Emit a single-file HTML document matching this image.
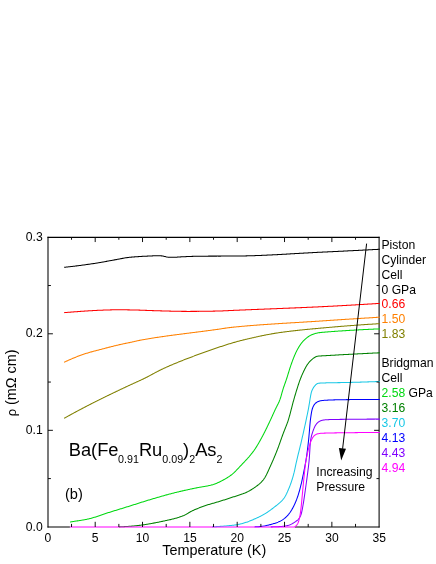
<!DOCTYPE html>
<html><head><meta charset="utf-8"><title>chart</title>
<style>
html,body{margin:0;padding:0;background:#fff;}
body{width:436px;height:564px;overflow:hidden;}
svg{display:block;will-change:transform;}
text{font-family:"Liberation Sans",sans-serif;}
</style></head><body>
<svg width="436" height="564" viewBox="0 0 436 564">
<rect width="436" height="564" fill="#fff"/>
<g id="axes">
<path d="M48.00 236.85 V527.50" stroke="#000" stroke-width="1.05" fill="none"/>
<path d="M379.10 236.85 V527.50" stroke="#000" stroke-width="1.05" fill="none"/>
<path d="M47.50 237.35 H379.60" stroke="#000" stroke-width="1.05" fill="none"/>
<path d="M47.50 527.00 H69.90 M294.95 527.00 H379.60" stroke="#000" stroke-width="1.05" fill="none"/>
</g>
<g id="curves">
<path d="M64.12 267.30 L64.86 267.23 L65.61 267.15 L66.35 267.07 L67.10 267.00 L67.84 266.92 L68.59 266.84 L69.34 266.75 L70.08 266.67 L70.83 266.59 L71.57 266.50 L72.32 266.42 L73.06 266.33 L73.80 266.24 L74.55 266.15 L75.29 266.06 L76.04 265.97 L76.78 265.88 L77.52 265.78 L78.27 265.69 L79.01 265.59 L79.76 265.50 L80.50 265.40 L81.24 265.30 L81.99 265.20 L82.73 265.10 L83.47 265.00 L84.21 264.90 L84.96 264.80 L85.70 264.70 L86.44 264.59 L87.18 264.49 L87.93 264.38 L88.67 264.28 L89.41 264.17 L90.15 264.06 L90.89 263.96 L91.64 263.85 L92.38 263.74 L93.12 263.63 L93.86 263.52 L94.60 263.41 L95.34 263.29 L96.09 263.18 L96.83 263.06 L97.57 262.94 L98.31 262.82 L99.04 262.70 L99.78 262.57 L100.52 262.44 L101.26 262.31 L102.00 262.18 L102.74 262.05 L103.47 261.92 L104.21 261.78 L104.95 261.65 L105.69 261.51 L106.42 261.37 L107.16 261.24 L107.90 261.10 L108.64 260.96 L109.37 260.83 L110.11 260.69 L110.85 260.55 L111.58 260.42 L112.32 260.28 L113.06 260.15 L113.80 260.01 L114.53 259.88 L115.27 259.75 L116.01 259.62 L116.75 259.48 L117.49 259.35 L118.22 259.21 L118.96 259.07 L119.69 258.92 L120.43 258.78 L121.17 258.64 L121.90 258.50 L122.64 258.36 L123.38 258.22 L124.12 258.09 L124.85 257.97 L125.59 257.84 L126.33 257.73 L127.08 257.62 L127.82 257.52 L128.56 257.43 L129.31 257.35 L130.05 257.27 L130.80 257.20 L131.55 257.13 L132.29 257.06 L133.04 257.00 L133.79 256.94 L134.54 256.88 L135.28 256.82 L136.03 256.76 L136.78 256.71 L137.53 256.66 L138.27 256.61 L139.02 256.56 L139.77 256.52 L140.52 256.47 L141.27 256.43 L142.02 256.39 L142.76 256.35 L143.51 256.31 L144.26 256.27 L145.01 256.24 L145.76 256.20 L146.51 256.16 L147.26 256.12 L148.01 256.08 L148.75 256.05 L149.50 256.01 L150.25 255.97 L151.00 255.94 L151.75 255.91 L152.50 255.88 L153.25 255.85 L154.00 255.82 L154.75 255.80 L155.50 255.78 L156.25 255.76 L157.00 255.75 L157.75 255.74 L158.49 255.73 L159.24 255.74 L159.99 255.76 L160.74 255.81 L161.49 255.88 L162.23 255.97 L162.97 256.08 L163.70 256.22 L164.43 256.39 L165.16 256.58 L165.88 256.78 L166.61 256.95 L167.34 257.10 L168.08 257.19 L168.83 257.24 L169.58 257.26 L170.33 257.26 L171.08 257.26 L171.83 257.26 L172.58 257.26 L173.33 257.26 L174.07 257.26 L174.82 257.24 L175.57 257.21 L176.32 257.17 L177.07 257.13 L177.82 257.07 L178.57 257.02 L179.31 256.96 L180.06 256.92 L180.81 256.87 L181.56 256.84 L182.31 256.80 L183.06 256.77 L183.81 256.73 L184.55 256.70 L185.30 256.67 L186.05 256.63 L186.80 256.60 L187.55 256.57 L188.30 256.53 L189.05 256.50 L189.80 256.47 L190.55 256.45 L191.30 256.42 L192.04 256.39 L192.79 256.37 L193.54 256.34 L194.29 256.32 L195.04 256.30 L195.79 256.28 L196.54 256.26 L197.29 256.25 L198.04 256.23 L198.79 256.22 L199.54 256.21 L200.29 256.20 L201.04 256.19 L201.79 256.19 L202.54 256.18 L203.29 256.17 L204.04 256.17 L204.79 256.16 L205.54 256.16 L206.29 256.15 L207.04 256.15 L207.79 256.15 L208.54 256.14 L209.29 256.14 L210.04 256.13 L210.78 256.13 L211.53 256.13 L212.28 256.12 L213.03 256.12 L213.78 256.12 L214.53 256.12 L215.28 256.11 L216.03 256.11 L216.78 256.11 L217.53 256.10 L218.28 256.10 L219.03 256.10 L219.78 256.10 L220.53 256.10 L221.28 256.09 L222.03 256.09 L222.78 256.09 L223.53 256.09 L224.28 256.08 L225.03 256.08 L225.78 256.08 L226.53 256.07 L227.28 256.07 L228.03 256.07 L228.78 256.07 L229.53 256.06 L230.28 256.06 L231.03 256.05 L231.78 256.05 L232.53 256.05 L233.28 256.04 L234.03 256.04 L234.78 256.03 L235.52 256.03 L236.27 256.02 L237.02 256.01 L237.77 256.01 L238.52 256.00 L239.27 255.99 L240.02 255.98 L240.77 255.97 L241.52 255.96 L242.27 255.95 L243.02 255.94 L243.77 255.93 L244.52 255.91 L245.27 255.90 L246.02 255.88 L246.77 255.86 L247.52 255.85 L248.27 255.83 L249.02 255.81 L249.77 255.79 L250.52 255.77 L251.27 255.74 L252.02 255.72 L252.76 255.70 L253.51 255.68 L254.26 255.65 L255.01 255.63 L255.76 255.60 L256.51 255.57 L257.26 255.55 L258.01 255.52 L258.76 255.49 L259.51 255.46 L260.26 255.43 L261.01 255.40 L261.75 255.37 L262.50 255.34 L263.25 255.31 L264.00 255.27 L264.75 255.24 L265.50 255.21 L266.25 255.17 L267.00 255.14 L267.75 255.10 L268.50 255.07 L269.24 255.03 L269.99 254.99 L270.74 254.96 L271.49 254.92 L272.24 254.88 L272.99 254.84 L273.74 254.81 L274.49 254.77 L275.23 254.73 L275.98 254.69 L276.73 254.65 L277.48 254.61 L278.23 254.57 L278.98 254.53 L279.73 254.49 L280.47 254.45 L281.22 254.40 L281.97 254.36 L282.72 254.32 L283.47 254.28 L284.22 254.24 L284.97 254.19 L285.71 254.15 L286.46 254.11 L287.21 254.07 L287.96 254.02 L288.71 253.98 L289.46 253.94 L290.21 253.89 L290.95 253.85 L291.70 253.81 L292.45 253.76 L293.20 253.72 L293.95 253.68 L294.70 253.63 L295.44 253.59 L296.19 253.55 L296.94 253.50 L297.69 253.46 L298.44 253.42 L299.19 253.37 L299.94 253.33 L300.68 253.29 L301.43 253.24 L302.18 253.20 L302.93 253.16 L303.68 253.12 L304.43 253.07 L305.17 253.03 L305.92 252.99 L306.67 252.95 L307.42 252.91 L308.17 252.86 L308.92 252.82 L309.67 252.78 L310.41 252.74 L311.16 252.70 L311.91 252.66 L312.66 252.62 L313.41 252.58 L314.16 252.54 L314.91 252.50 L315.66 252.47 L316.40 252.43 L317.15 252.39 L317.90 252.35 L318.65 252.32 L319.40 252.28 L320.15 252.24 L320.90 252.21 L321.65 252.17 L322.39 252.14 L323.14 252.10 L323.89 252.06 L324.64 252.03 L325.39 251.99 L326.14 251.96 L326.89 251.92 L327.64 251.88 L328.39 251.85 L329.13 251.81 L329.88 251.77 L330.63 251.74 L331.38 251.70 L332.13 251.66 L332.88 251.63 L333.63 251.59 L334.38 251.55 L335.12 251.52 L335.87 251.48 L336.62 251.44 L337.37 251.41 L338.12 251.37 L338.87 251.33 L339.62 251.30 L340.37 251.26 L341.12 251.22 L341.86 251.18 L342.61 251.15 L343.36 251.11 L344.11 251.07 L344.86 251.04 L345.61 251.00 L346.36 250.96 L347.11 250.92 L347.85 250.89 L348.60 250.85 L349.35 250.81 L350.10 250.77 L350.85 250.74 L351.60 250.70 L352.35 250.66 L353.10 250.62 L353.84 250.59 L354.59 250.55 L355.34 250.51 L356.09 250.47 L356.84 250.43 L357.59 250.40 L358.34 250.36 L359.09 250.32 L359.83 250.28 L360.58 250.24 L361.33 250.21 L362.08 250.17 L362.83 250.13 L363.58 250.09 L364.33 250.05 L365.08 250.01 L365.82 249.98 L366.57 249.94 L367.32 249.90 L368.07 249.86 L368.82 249.82 L369.57 249.78 L370.32 249.75 L371.07 249.71 L371.81 249.67 L372.56 249.63 L373.31 249.59 L374.06 249.55 L374.81 249.51 L375.56 249.48 L376.31 249.44 L377.05 249.40 L377.80 249.36 L378.55 249.32 L379.30 249.28 L379.80 249.26" fill="none" stroke="#000000" stroke-width="1.05" stroke-linejoin="round"/>
<path d="M64.12 312.66 L64.86 312.60 L65.61 312.53 L66.36 312.47 L67.11 312.41 L67.85 312.35 L68.60 312.29 L69.35 312.24 L70.10 312.18 L70.84 312.12 L71.59 312.06 L72.34 312.00 L73.09 311.94 L73.84 311.89 L74.58 311.83 L75.33 311.77 L76.08 311.72 L76.83 311.66 L77.57 311.61 L78.32 311.55 L79.07 311.50 L79.82 311.44 L80.57 311.39 L81.31 311.33 L82.06 311.28 L82.81 311.22 L83.56 311.17 L84.31 311.12 L85.05 311.07 L85.80 311.02 L86.55 310.97 L87.30 310.92 L88.05 310.87 L88.80 310.83 L89.55 310.78 L90.29 310.74 L91.04 310.69 L91.79 310.65 L92.54 310.61 L93.29 310.57 L94.04 310.53 L94.79 310.49 L95.54 310.45 L96.29 310.41 L97.03 310.38 L97.78 310.34 L98.53 310.30 L99.28 310.27 L100.03 310.24 L100.78 310.21 L101.53 310.18 L102.28 310.15 L103.03 310.12 L103.78 310.09 L104.53 310.07 L105.28 310.04 L106.03 310.02 L106.78 309.99 L107.53 309.97 L108.28 309.95 L109.02 309.93 L109.77 309.91 L110.52 309.89 L111.27 309.87 L112.02 309.85 L112.77 309.83 L113.52 309.82 L114.27 309.81 L115.02 309.79 L115.77 309.79 L116.52 309.78 L117.27 309.77 L118.02 309.77 L118.77 309.77 L119.52 309.77 L120.27 309.78 L121.02 309.78 L121.77 309.78 L122.52 309.79 L123.27 309.80 L124.02 309.81 L124.77 309.82 L125.52 309.83 L126.27 309.84 L127.02 309.85 L127.77 309.86 L128.52 309.87 L129.27 309.88 L130.02 309.90 L130.77 309.91 L131.52 309.92 L132.27 309.94 L133.02 309.95 L133.77 309.97 L134.52 309.98 L135.27 310.00 L136.02 310.02 L136.77 310.04 L137.52 310.06 L138.27 310.09 L139.02 310.11 L139.77 310.13 L140.52 310.16 L141.27 310.19 L142.02 310.21 L142.77 310.24 L143.52 310.27 L144.26 310.30 L145.01 310.33 L145.76 310.36 L146.51 310.39 L147.26 310.42 L148.01 310.45 L148.76 310.47 L149.51 310.50 L150.26 310.53 L151.01 310.56 L151.76 310.58 L152.51 310.61 L153.26 310.64 L154.01 310.66 L154.76 310.68 L155.51 310.71 L156.26 310.73 L157.01 310.75 L157.76 310.77 L158.51 310.79 L159.25 310.81 L160.00 310.84 L160.75 310.86 L161.50 310.88 L162.25 310.90 L163.00 310.92 L163.75 310.94 L164.50 310.97 L165.25 310.99 L166.00 311.01 L166.75 311.03 L167.50 311.05 L168.25 311.07 L169.00 311.09 L169.75 311.11 L170.50 311.13 L171.25 311.15 L172.00 311.17 L172.75 311.19 L173.50 311.21 L174.25 311.23 L175.00 311.24 L175.75 311.26 L176.50 311.28 L177.25 311.29 L178.00 311.30 L178.75 311.32 L179.50 311.33 L180.25 311.34 L181.00 311.35 L181.75 311.36 L182.50 311.37 L183.25 311.38 L184.00 311.38 L184.75 311.39 L185.50 311.39 L186.25 311.39 L187.00 311.40 L187.75 311.40 L188.50 311.40 L189.25 311.40 L190.00 311.40 L190.75 311.39 L191.50 311.39 L192.25 311.39 L193.00 311.38 L193.75 311.38 L194.50 311.38 L195.25 311.37 L196.00 311.37 L196.75 311.36 L197.50 311.35 L198.25 311.35 L199.00 311.34 L199.75 311.33 L200.50 311.33 L201.25 311.32 L202.00 311.31 L202.75 311.30 L203.50 311.29 L204.25 311.28 L205.00 311.27 L205.75 311.26 L206.50 311.25 L207.25 311.24 L207.99 311.23 L208.74 311.22 L209.49 311.20 L210.24 311.19 L210.99 311.18 L211.74 311.17 L212.49 311.15 L213.24 311.14 L213.99 311.13 L214.74 311.11 L215.49 311.10 L216.24 311.08 L216.99 311.07 L217.74 311.05 L218.49 311.03 L219.24 311.01 L219.99 310.99 L220.74 310.97 L221.49 310.94 L222.24 310.91 L222.99 310.88 L223.74 310.85 L224.49 310.81 L225.24 310.78 L225.99 310.74 L226.73 310.70 L227.48 310.66 L228.23 310.63 L228.98 310.59 L229.73 310.55 L230.48 310.52 L231.23 310.48 L231.98 310.45 L232.73 310.41 L233.48 310.38 L234.23 310.35 L234.98 310.32 L235.72 310.28 L236.47 310.25 L237.22 310.22 L237.97 310.19 L238.72 310.16 L239.47 310.12 L240.22 310.09 L240.97 310.06 L241.72 310.03 L242.47 310.00 L243.22 309.97 L243.97 309.94 L244.72 309.90 L245.47 309.87 L246.22 309.84 L246.96 309.81 L247.71 309.78 L248.46 309.75 L249.21 309.72 L249.96 309.69 L250.71 309.66 L251.46 309.63 L252.21 309.60 L252.96 309.57 L253.71 309.54 L254.46 309.51 L255.21 309.48 L255.96 309.45 L256.71 309.42 L257.46 309.39 L258.21 309.36 L258.95 309.33 L259.70 309.30 L260.45 309.27 L261.20 309.24 L261.95 309.21 L262.70 309.18 L263.45 309.15 L264.20 309.12 L264.95 309.09 L265.70 309.06 L266.45 309.03 L267.20 309.01 L267.95 308.98 L268.70 308.95 L269.45 308.92 L270.20 308.89 L270.94 308.86 L271.69 308.83 L272.44 308.80 L273.19 308.77 L273.94 308.74 L274.69 308.71 L275.44 308.68 L276.19 308.65 L276.94 308.62 L277.69 308.59 L278.44 308.56 L279.19 308.53 L279.94 308.50 L280.69 308.47 L281.44 308.44 L282.19 308.41 L282.93 308.38 L283.68 308.35 L284.43 308.32 L285.18 308.29 L285.93 308.26 L286.68 308.23 L287.43 308.20 L288.18 308.17 L288.93 308.14 L289.68 308.11 L290.43 308.08 L291.18 308.05 L291.93 308.02 L292.68 307.99 L293.43 307.96 L294.18 307.93 L294.92 307.89 L295.67 307.86 L296.42 307.83 L297.17 307.80 L297.92 307.77 L298.67 307.74 L299.42 307.71 L300.17 307.67 L300.92 307.64 L301.67 307.61 L302.42 307.58 L303.17 307.54 L303.92 307.51 L304.67 307.48 L305.41 307.45 L306.16 307.41 L306.91 307.38 L307.66 307.35 L308.41 307.31 L309.16 307.28 L309.91 307.24 L310.66 307.21 L311.41 307.18 L312.16 307.14 L312.91 307.11 L313.66 307.07 L314.40 307.04 L315.15 307.00 L315.90 306.97 L316.65 306.93 L317.40 306.90 L318.15 306.86 L318.90 306.83 L319.65 306.79 L320.40 306.75 L321.15 306.72 L321.90 306.68 L322.64 306.64 L323.39 306.61 L324.14 306.57 L324.89 306.53 L325.64 306.49 L326.39 306.46 L327.14 306.42 L327.89 306.38 L328.64 306.34 L329.39 306.30 L330.14 306.26 L330.88 306.22 L331.63 306.19 L332.38 306.15 L333.13 306.11 L333.88 306.07 L334.63 306.03 L335.38 305.99 L336.13 305.95 L336.88 305.91 L337.62 305.87 L338.37 305.83 L339.12 305.79 L339.87 305.75 L340.62 305.70 L341.37 305.66 L342.12 305.62 L342.87 305.58 L343.62 305.54 L344.36 305.50 L345.11 305.46 L345.86 305.41 L346.61 305.37 L347.36 305.33 L348.11 305.29 L348.86 305.25 L349.61 305.20 L350.35 305.16 L351.10 305.12 L351.85 305.07 L352.60 305.03 L353.35 304.99 L354.10 304.94 L354.85 304.90 L355.60 304.86 L356.34 304.81 L357.09 304.77 L357.84 304.73 L358.59 304.68 L359.34 304.64 L360.09 304.59 L360.84 304.55 L361.58 304.50 L362.33 304.46 L363.08 304.41 L363.83 304.37 L364.58 304.33 L365.33 304.28 L366.08 304.23 L366.82 304.19 L367.57 304.14 L368.32 304.10 L369.07 304.05 L369.82 304.01 L370.57 303.96 L371.32 303.92 L372.07 303.87 L372.81 303.82 L373.56 303.78 L374.31 303.73 L375.06 303.69 L375.81 303.64 L376.56 303.59 L377.30 303.55 L378.05 303.50 L378.80 303.45 L379.55 303.41 L379.80 303.39" fill="none" stroke="#ff0000" stroke-width="1.05" stroke-linejoin="round"/>
<path d="M64.12 362.26 L64.80 361.94 L65.47 361.62 L66.16 361.31 L66.84 361.00 L67.52 360.69 L68.20 360.38 L68.88 360.07 L69.57 359.77 L70.26 359.46 L70.94 359.16 L71.63 358.87 L72.32 358.58 L73.01 358.28 L73.70 358.00 L74.40 357.71 L75.09 357.43 L75.79 357.15 L76.48 356.88 L77.18 356.60 L77.88 356.33 L78.58 356.07 L79.28 355.80 L79.99 355.54 L80.69 355.29 L81.40 355.03 L82.10 354.78 L82.81 354.54 L83.52 354.29 L84.23 354.05 L84.94 353.82 L85.65 353.59 L86.37 353.36 L87.08 353.13 L87.80 352.91 L88.52 352.70 L89.23 352.49 L89.95 352.28 L90.67 352.07 L91.40 351.87 L92.12 351.67 L92.84 351.47 L93.57 351.28 L94.29 351.09 L95.01 350.90 L95.74 350.71 L96.47 350.52 L97.19 350.33 L97.92 350.15 L98.64 349.96 L99.37 349.77 L100.09 349.58 L100.82 349.40 L101.55 349.21 L102.27 349.02 L103.00 348.83 L103.72 348.64 L104.45 348.45 L105.17 348.26 L105.90 348.07 L106.62 347.88 L107.35 347.69 L108.07 347.50 L108.80 347.32 L109.52 347.13 L110.25 346.94 L110.97 346.76 L111.70 346.57 L112.43 346.39 L113.15 346.20 L113.88 346.02 L114.61 345.84 L115.34 345.66 L116.07 345.49 L116.79 345.31 L117.52 345.14 L118.25 344.97 L118.98 344.80 L119.71 344.63 L120.45 344.47 L121.18 344.31 L121.91 344.15 L122.64 343.99 L123.38 343.84 L124.11 343.69 L124.84 343.53 L125.58 343.38 L126.31 343.23 L127.05 343.08 L127.78 342.93 L128.51 342.78 L129.25 342.62 L129.98 342.46 L130.71 342.31 L131.45 342.15 L132.18 341.98 L132.91 341.82 L133.64 341.65 L134.37 341.49 L135.10 341.32 L135.83 341.16 L136.56 341.00 L137.30 340.84 L138.03 340.68 L138.76 340.52 L139.50 340.37 L140.23 340.23 L140.97 340.08 L141.70 339.94 L142.44 339.81 L143.18 339.67 L143.91 339.54 L144.65 339.41 L145.39 339.28 L146.13 339.16 L146.87 339.03 L147.61 338.91 L148.35 338.78 L149.09 338.66 L149.83 338.54 L150.57 338.42 L151.31 338.30 L152.05 338.18 L152.79 338.06 L153.53 337.95 L154.27 337.83 L155.01 337.71 L155.75 337.60 L156.49 337.49 L157.23 337.37 L157.97 337.26 L158.71 337.15 L159.45 337.04 L160.20 336.93 L160.94 336.82 L161.68 336.72 L162.42 336.61 L163.16 336.50 L163.90 336.40 L164.65 336.29 L165.39 336.19 L166.13 336.08 L166.87 335.98 L167.62 335.88 L168.36 335.78 L169.10 335.67 L169.84 335.57 L170.59 335.47 L171.33 335.37 L172.07 335.27 L172.82 335.17 L173.56 335.08 L174.30 334.98 L175.04 334.88 L175.79 334.78 L176.53 334.69 L177.27 334.59 L178.02 334.49 L178.76 334.40 L179.50 334.30 L180.25 334.20 L180.99 334.11 L181.73 334.01 L182.48 333.92 L183.22 333.82 L183.96 333.73 L184.71 333.64 L185.45 333.54 L186.20 333.45 L186.94 333.35 L187.68 333.26 L188.43 333.17 L189.17 333.07 L189.91 332.98 L190.66 332.88 L191.40 332.79 L192.14 332.70 L192.89 332.60 L193.63 332.51 L194.37 332.42 L195.12 332.32 L195.86 332.23 L196.61 332.13 L197.35 332.04 L198.09 331.94 L198.84 331.85 L199.58 331.76 L200.32 331.66 L201.07 331.56 L201.81 331.47 L202.55 331.37 L203.30 331.28 L204.04 331.18 L204.78 331.08 L205.53 330.99 L206.27 330.89 L207.01 330.79 L207.76 330.69 L208.50 330.59 L209.24 330.49 L209.98 330.40 L210.73 330.30 L211.47 330.19 L212.21 330.09 L212.95 329.99 L213.70 329.89 L214.44 329.79 L215.18 329.68 L215.92 329.58 L216.67 329.47 L217.41 329.37 L218.15 329.26 L218.89 329.15 L219.63 329.04 L220.37 328.93 L221.12 328.82 L221.86 328.71 L222.60 328.59 L223.34 328.48 L224.08 328.36 L224.82 328.25 L225.56 328.14 L226.30 328.03 L227.04 327.92 L227.79 327.82 L228.53 327.72 L229.27 327.63 L230.02 327.54 L230.76 327.45 L231.51 327.37 L232.25 327.29 L233.00 327.21 L233.74 327.14 L234.49 327.06 L235.23 326.99 L235.98 326.91 L236.72 326.84 L237.47 326.77 L238.22 326.69 L238.96 326.62 L239.71 326.55 L240.46 326.48 L241.20 326.42 L241.95 326.35 L242.69 326.28 L243.44 326.21 L244.19 326.15 L244.93 326.08 L245.68 326.02 L246.43 325.95 L247.17 325.89 L247.92 325.82 L248.67 325.76 L249.42 325.70 L250.16 325.64 L250.91 325.58 L251.66 325.52 L252.40 325.46 L253.15 325.40 L253.90 325.34 L254.65 325.28 L255.39 325.22 L256.14 325.17 L256.89 325.11 L257.63 325.05 L258.38 325.00 L259.13 324.94 L259.88 324.89 L260.62 324.83 L261.37 324.78 L262.12 324.72 L262.87 324.67 L263.61 324.62 L264.36 324.57 L265.11 324.51 L265.86 324.46 L266.61 324.41 L267.35 324.36 L268.10 324.31 L268.85 324.26 L269.60 324.21 L270.34 324.16 L271.09 324.11 L271.84 324.06 L272.59 324.01 L273.34 323.96 L274.08 323.91 L274.83 323.86 L275.58 323.82 L276.33 323.77 L277.08 323.72 L277.82 323.67 L278.57 323.63 L279.32 323.58 L280.07 323.53 L280.82 323.49 L281.56 323.44 L282.31 323.39 L283.06 323.35 L283.81 323.30 L284.56 323.26 L285.30 323.21 L286.05 323.16 L286.80 323.12 L287.55 323.07 L288.30 323.03 L289.05 322.98 L289.79 322.94 L290.54 322.89 L291.29 322.85 L292.04 322.80 L292.79 322.76 L293.53 322.71 L294.28 322.67 L295.03 322.62 L295.78 322.58 L296.53 322.53 L297.27 322.49 L298.02 322.44 L298.77 322.40 L299.52 322.35 L300.27 322.31 L301.02 322.26 L301.76 322.22 L302.51 322.17 L303.26 322.13 L304.01 322.08 L304.76 322.03 L305.50 321.99 L306.25 321.94 L307.00 321.89 L307.75 321.85 L308.50 321.80 L309.24 321.75 L309.99 321.71 L310.74 321.66 L311.49 321.61 L312.24 321.57 L312.98 321.52 L313.73 321.47 L314.48 321.42 L315.23 321.37 L315.98 321.32 L316.72 321.27 L317.47 321.22 L318.22 321.17 L318.97 321.13 L319.72 321.07 L320.46 321.02 L321.21 320.97 L321.96 320.92 L322.71 320.87 L323.45 320.82 L324.20 320.77 L324.95 320.72 L325.70 320.67 L326.45 320.62 L327.19 320.57 L327.94 320.52 L328.69 320.47 L329.44 320.42 L330.18 320.37 L330.93 320.32 L331.68 320.27 L332.43 320.22 L333.18 320.17 L333.92 320.12 L334.67 320.07 L335.42 320.03 L336.17 319.98 L336.92 319.93 L337.66 319.88 L338.41 319.83 L339.16 319.78 L339.91 319.73 L340.66 319.68 L341.40 319.63 L342.15 319.58 L342.90 319.53 L343.65 319.49 L344.39 319.44 L345.14 319.39 L345.89 319.34 L346.64 319.29 L347.39 319.24 L348.13 319.19 L348.88 319.15 L349.63 319.10 L350.38 319.05 L351.13 319.00 L351.87 318.95 L352.62 318.90 L353.37 318.86 L354.12 318.81 L354.87 318.76 L355.61 318.71 L356.36 318.66 L357.11 318.62 L357.86 318.57 L358.61 318.52 L359.35 318.47 L360.10 318.43 L360.85 318.38 L361.60 318.33 L362.35 318.28 L363.09 318.24 L363.84 318.19 L364.59 318.14 L365.34 318.09 L366.09 318.05 L366.83 318.00 L367.58 317.95 L368.33 317.91 L369.08 317.86 L369.83 317.81 L370.57 317.77 L371.32 317.72 L372.07 317.67 L372.82 317.63 L373.57 317.58 L374.31 317.53 L375.06 317.49 L375.81 317.44 L376.56 317.39 L377.31 317.35 L378.05 317.30 L378.80 317.25 L379.55 317.21 L379.80 317.19" fill="none" stroke="#ff8000" stroke-width="1.05" stroke-linejoin="round"/>
<path d="M64.12 418.32 L64.77 417.96 L65.43 417.59 L66.08 417.23 L66.74 416.87 L67.39 416.50 L68.05 416.14 L68.71 415.78 L69.36 415.42 L70.02 415.05 L70.68 414.69 L71.34 414.33 L71.99 413.97 L72.65 413.62 L73.31 413.26 L73.97 412.90 L74.63 412.54 L75.29 412.19 L75.95 411.83 L76.61 411.48 L77.27 411.12 L77.93 410.77 L78.59 410.41 L79.26 410.06 L79.92 409.71 L80.58 409.36 L81.24 409.01 L81.91 408.66 L82.57 408.31 L83.23 407.96 L83.90 407.61 L84.56 407.26 L85.23 406.92 L85.89 406.57 L86.56 406.22 L87.22 405.88 L87.89 405.54 L88.56 405.19 L89.22 404.85 L89.89 404.51 L90.56 404.17 L91.23 403.83 L91.90 403.49 L92.57 403.15 L93.23 402.81 L93.90 402.47 L94.57 402.13 L95.24 401.80 L95.91 401.46 L96.58 401.12 L97.26 400.79 L97.93 400.45 L98.60 400.12 L99.27 399.79 L99.94 399.45 L100.61 399.12 L101.29 398.79 L101.96 398.46 L102.63 398.12 L103.30 397.79 L103.98 397.46 L104.65 397.13 L105.32 396.80 L106.00 396.47 L106.67 396.14 L107.34 395.81 L108.02 395.48 L108.69 395.16 L109.37 394.83 L110.04 394.50 L110.72 394.17 L111.39 393.85 L112.07 393.52 L112.74 393.20 L113.42 392.87 L114.09 392.55 L114.77 392.22 L115.45 391.90 L116.12 391.57 L116.80 391.25 L117.48 390.93 L118.15 390.61 L118.83 390.28 L119.51 389.96 L120.19 389.64 L120.86 389.32 L121.54 389.00 L122.22 388.68 L122.90 388.36 L123.58 388.04 L124.26 387.72 L124.94 387.40 L125.61 387.09 L126.29 386.77 L126.97 386.45 L127.65 386.13 L128.33 385.81 L129.01 385.50 L129.69 385.18 L130.37 384.87 L131.05 384.55 L131.73 384.24 L132.42 383.93 L133.10 383.62 L133.78 383.31 L134.46 383.00 L135.15 382.69 L135.83 382.38 L136.51 382.07 L137.20 381.76 L137.88 381.45 L138.56 381.14 L139.25 380.83 L139.93 380.52 L140.61 380.20 L141.29 379.89 L141.97 379.57 L142.64 379.25 L143.32 378.92 L143.99 378.59 L144.67 378.26 L145.34 377.93 L146.01 377.59 L146.68 377.25 L147.34 376.91 L148.01 376.56 L148.67 376.21 L149.33 375.86 L150.00 375.51 L150.66 375.15 L151.32 374.80 L151.97 374.44 L152.63 374.08 L153.29 373.72 L153.95 373.36 L154.61 373.01 L155.27 372.65 L155.93 372.30 L156.60 371.95 L157.26 371.60 L157.92 371.25 L158.59 370.91 L159.26 370.57 L159.93 370.24 L160.60 369.90 L161.28 369.58 L161.95 369.25 L162.63 368.93 L163.31 368.61 L163.99 368.29 L164.67 367.98 L165.35 367.67 L166.04 367.36 L166.72 367.06 L167.41 366.75 L168.09 366.45 L168.78 366.15 L169.47 365.85 L170.16 365.55 L170.84 365.25 L171.53 364.96 L172.22 364.67 L172.91 364.37 L173.61 364.08 L174.30 363.79 L174.99 363.50 L175.68 363.22 L176.37 362.93 L177.07 362.65 L177.76 362.36 L178.46 362.08 L179.15 361.80 L179.85 361.52 L180.54 361.24 L181.24 360.96 L181.94 360.68 L182.63 360.41 L183.33 360.13 L184.03 359.86 L184.73 359.59 L185.43 359.31 L186.13 359.04 L186.83 358.77 L187.53 358.51 L188.23 358.24 L188.93 357.97 L189.63 357.70 L190.33 357.44 L191.03 357.17 L191.73 356.91 L192.44 356.64 L193.14 356.38 L193.84 356.12 L194.54 355.86 L195.25 355.59 L195.95 355.33 L196.65 355.07 L197.36 354.81 L198.06 354.56 L198.76 354.30 L199.47 354.04 L200.17 353.79 L200.88 353.53 L201.58 353.28 L202.29 353.02 L203.00 352.77 L203.70 352.52 L204.41 352.26 L205.11 352.01 L205.82 351.76 L206.53 351.51 L207.24 351.26 L207.94 351.02 L208.65 350.77 L209.36 350.52 L210.07 350.27 L210.78 350.03 L211.48 349.78 L212.19 349.54 L212.90 349.29 L213.61 349.04 L214.32 348.80 L215.03 348.55 L215.74 348.31 L216.45 348.07 L217.16 347.82 L217.86 347.58 L218.57 347.34 L219.28 347.10 L220.00 346.86 L220.71 346.62 L221.42 346.38 L222.13 346.15 L222.84 345.91 L223.55 345.68 L224.27 345.44 L224.98 345.21 L225.69 344.98 L226.41 344.76 L227.12 344.53 L227.84 344.31 L228.56 344.09 L229.27 343.87 L229.99 343.65 L230.71 343.43 L231.43 343.22 L232.15 343.01 L232.87 342.79 L233.59 342.58 L234.31 342.38 L235.03 342.17 L235.75 341.96 L236.47 341.76 L237.19 341.56 L237.92 341.36 L238.64 341.17 L239.37 340.97 L240.09 340.78 L240.82 340.60 L241.54 340.41 L242.27 340.23 L243.00 340.05 L243.73 339.87 L244.46 339.69 L245.18 339.52 L245.91 339.34 L246.64 339.17 L247.37 339.00 L248.10 338.83 L248.83 338.66 L249.56 338.49 L250.29 338.32 L251.03 338.15 L251.76 337.98 L252.49 337.81 L253.22 337.65 L253.95 337.48 L254.68 337.32 L255.41 337.15 L256.15 336.99 L256.88 336.83 L257.61 336.67 L258.34 336.51 L259.08 336.35 L259.81 336.19 L260.54 336.04 L261.28 335.88 L262.01 335.73 L262.75 335.58 L263.48 335.43 L264.22 335.28 L264.95 335.13 L265.69 334.99 L266.42 334.85 L267.16 334.70 L267.90 334.56 L268.63 334.42 L269.37 334.29 L270.11 334.15 L270.85 334.02 L271.58 333.89 L272.32 333.76 L273.06 333.63 L273.80 333.51 L274.54 333.38 L275.28 333.26 L276.02 333.14 L276.76 333.03 L277.50 332.91 L278.24 332.80 L278.99 332.69 L279.73 332.58 L280.47 332.47 L281.21 332.37 L281.96 332.27 L282.70 332.17 L283.44 332.06 L284.19 331.97 L284.93 331.87 L285.67 331.77 L286.42 331.68 L287.16 331.58 L287.90 331.49 L288.65 331.40 L289.39 331.31 L290.14 331.22 L290.88 331.13 L291.63 331.04 L292.37 330.95 L293.12 330.87 L293.86 330.78 L294.61 330.70 L295.35 330.61 L296.10 330.53 L296.84 330.45 L297.59 330.37 L298.33 330.29 L299.08 330.21 L299.83 330.13 L300.57 330.05 L301.32 329.98 L302.06 329.90 L302.81 329.82 L303.56 329.75 L304.30 329.67 L305.05 329.60 L305.79 329.53 L306.54 329.45 L307.29 329.38 L308.03 329.31 L308.78 329.24 L309.53 329.17 L310.27 329.09 L311.02 329.02 L311.77 328.95 L312.51 328.88 L313.26 328.82 L314.01 328.75 L314.75 328.68 L315.50 328.61 L316.25 328.54 L316.99 328.47 L317.74 328.40 L318.49 328.34 L319.23 328.27 L319.98 328.20 L320.73 328.13 L321.48 328.07 L322.22 328.00 L322.97 327.93 L323.72 327.87 L324.46 327.80 L325.21 327.73 L325.96 327.67 L326.70 327.60 L327.45 327.54 L328.20 327.47 L328.95 327.41 L329.69 327.34 L330.44 327.28 L331.19 327.21 L331.93 327.15 L332.68 327.08 L333.43 327.02 L334.18 326.96 L334.92 326.89 L335.67 326.83 L336.42 326.77 L337.16 326.70 L337.91 326.64 L338.66 326.58 L339.41 326.52 L340.15 326.46 L340.90 326.39 L341.65 326.33 L342.40 326.27 L343.14 326.21 L343.89 326.15 L344.64 326.09 L345.39 326.03 L346.13 325.97 L346.88 325.91 L347.63 325.85 L348.38 325.80 L349.12 325.74 L349.87 325.68 L350.62 325.62 L351.37 325.57 L352.12 325.51 L352.86 325.45 L353.61 325.40 L354.36 325.34 L355.11 325.28 L355.85 325.23 L356.60 325.17 L357.35 325.12 L358.10 325.06 L358.85 325.01 L359.59 324.96 L360.34 324.90 L361.09 324.85 L361.84 324.80 L362.59 324.75 L363.33 324.70 L364.08 324.64 L364.83 324.59 L365.58 324.54 L366.33 324.49 L367.08 324.44 L367.82 324.39 L368.57 324.34 L369.32 324.30 L370.07 324.25 L370.82 324.20 L371.57 324.15 L372.31 324.11 L373.06 324.06 L373.81 324.01 L374.56 323.97 L375.31 323.92 L376.06 323.88 L376.81 323.83 L377.55 323.79 L378.30 323.74 L379.05 323.70 L379.80 323.66 L379.80 323.66" fill="none" stroke="#808000" stroke-width="1.05" stroke-linejoin="round"/>
<path d="M69.99 522.06 L70.73 521.94 L71.47 521.81 L72.21 521.69 L72.95 521.57 L73.69 521.45 L74.43 521.33 L75.17 521.21 L75.91 521.09 L76.66 520.98 L77.40 520.87 L78.14 520.76 L78.88 520.65 L79.62 520.54 L80.36 520.43 L81.10 520.32 L81.85 520.20 L82.59 520.09 L83.33 519.97 L84.07 519.84 L84.80 519.71 L85.54 519.57 L86.28 519.43 L87.01 519.27 L87.74 519.11 L88.47 518.94 L89.20 518.76 L89.92 518.58 L90.65 518.39 L91.37 518.19 L92.10 517.99 L92.82 517.79 L93.54 517.58 L94.26 517.37 L94.97 517.15 L95.69 516.93 L96.41 516.71 L97.12 516.49 L97.84 516.26 L98.55 516.02 L99.26 515.78 L99.97 515.54 L100.68 515.30 L101.39 515.06 L102.10 514.81 L102.80 514.56 L103.51 514.32 L104.22 514.07 L104.93 513.82 L105.64 513.58 L106.35 513.33 L107.06 513.09 L107.77 512.86 L108.48 512.62 L109.19 512.39 L109.91 512.16 L110.62 511.93 L111.33 511.70 L112.05 511.48 L112.77 511.26 L113.48 511.03 L114.20 510.81 L114.92 510.60 L115.63 510.38 L116.35 510.16 L117.07 509.94 L117.79 509.72 L118.50 509.50 L119.22 509.29 L119.94 509.07 L120.66 508.85 L121.37 508.63 L122.09 508.41 L122.81 508.19 L123.52 507.97 L124.24 507.74 L124.95 507.52 L125.67 507.30 L126.39 507.07 L127.10 506.85 L127.82 506.63 L128.53 506.40 L129.25 506.18 L129.96 505.95 L130.68 505.73 L131.40 505.51 L132.11 505.28 L132.83 505.06 L133.54 504.83 L134.26 504.61 L134.97 504.38 L135.69 504.15 L136.40 503.93 L137.12 503.70 L137.83 503.48 L138.55 503.25 L139.26 503.02 L139.98 502.80 L140.69 502.57 L141.41 502.35 L142.12 502.12 L142.84 501.90 L143.55 501.67 L144.27 501.45 L144.98 501.23 L145.70 501.00 L146.42 500.78 L147.13 500.56 L147.85 500.34 L148.57 500.12 L149.29 499.91 L150.00 499.69 L150.72 499.47 L151.44 499.26 L152.16 499.04 L152.88 498.83 L153.60 498.61 L154.32 498.40 L155.03 498.19 L155.75 497.98 L156.47 497.77 L157.19 497.56 L157.91 497.35 L158.63 497.14 L159.35 496.93 L160.07 496.72 L160.79 496.51 L161.51 496.30 L162.23 496.10 L162.96 495.89 L163.68 495.69 L164.40 495.48 L165.12 495.28 L165.84 495.08 L166.57 494.88 L167.29 494.68 L168.01 494.48 L168.74 494.29 L169.46 494.09 L170.19 493.90 L170.91 493.71 L171.64 493.52 L172.36 493.33 L173.09 493.14 L173.81 492.96 L174.54 492.78 L175.27 492.60 L176.00 492.42 L176.73 492.24 L177.46 492.07 L178.19 491.89 L178.92 491.72 L179.65 491.55 L180.38 491.38 L181.11 491.21 L181.84 491.04 L182.57 490.87 L183.30 490.71 L184.03 490.54 L184.76 490.37 L185.49 490.21 L186.22 490.05 L186.96 489.89 L187.69 489.72 L188.42 489.56 L189.15 489.41 L189.89 489.25 L190.62 489.09 L191.35 488.94 L192.09 488.78 L192.82 488.63 L193.56 488.48 L194.29 488.33 L195.03 488.18 L195.76 488.03 L196.50 487.88 L197.23 487.74 L197.97 487.60 L198.71 487.46 L199.44 487.33 L200.18 487.19 L200.92 487.07 L201.66 486.94 L202.40 486.81 L203.14 486.69 L203.88 486.57 L204.62 486.45 L205.36 486.32 L206.10 486.19 L206.83 486.06 L207.57 485.92 L208.30 485.77 L209.04 485.61 L209.77 485.44 L210.49 485.27 L211.22 485.08 L211.94 484.88 L212.66 484.66 L213.37 484.44 L214.08 484.20 L214.79 483.95 L215.49 483.69 L216.19 483.42 L216.88 483.14 L217.57 482.85 L218.26 482.55 L218.94 482.24 L219.62 481.92 L220.29 481.59 L220.96 481.25 L221.62 480.90 L222.28 480.55 L222.94 480.19 L223.60 479.83 L224.25 479.47 L224.91 479.10 L225.56 478.72 L226.20 478.34 L226.85 477.96 L227.49 477.57 L228.12 477.17 L228.75 476.77 L229.37 476.35 L229.99 475.92 L230.59 475.49 L231.19 475.04 L231.78 474.57 L232.36 474.10 L232.93 473.61 L233.49 473.12 L234.04 472.61 L234.58 472.09 L235.11 471.57 L235.64 471.04 L236.17 470.50 L236.69 469.96 L237.21 469.42 L237.72 468.88 L238.24 468.33 L238.75 467.79 L239.26 467.24 L239.78 466.69 L240.29 466.15 L240.81 465.61 L241.33 465.06 L241.85 464.52 L242.36 463.98 L242.88 463.44 L243.40 462.89 L243.92 462.35 L244.43 461.81 L244.95 461.26 L245.46 460.71 L245.97 460.17 L246.48 459.61 L246.98 459.06 L247.49 458.50 L247.99 457.95 L248.48 457.38 L248.98 456.82 L249.46 456.25 L249.95 455.68 L250.43 455.10 L250.90 454.52 L251.37 453.94 L251.84 453.35 L252.30 452.76 L252.75 452.16 L253.20 451.56 L253.65 450.96 L254.08 450.35 L254.51 449.74 L254.94 449.12 L255.35 448.49 L255.76 447.87 L256.17 447.24 L256.57 446.60 L256.96 445.97 L257.35 445.33 L257.74 444.68 L258.12 444.04 L258.50 443.39 L258.88 442.74 L259.25 442.09 L259.62 441.44 L259.99 440.79 L260.36 440.13 L260.72 439.48 L261.08 438.82 L261.44 438.16 L261.80 437.51 L262.16 436.85 L262.51 436.19 L262.87 435.52 L263.21 434.86 L263.56 434.20 L263.91 433.53 L264.25 432.86 L264.59 432.19 L264.92 431.52 L265.26 430.85 L265.59 430.18 L265.92 429.51 L266.25 428.83 L266.58 428.16 L266.91 427.48 L267.23 426.81 L267.56 426.13 L267.88 425.46 L268.20 424.78 L268.53 424.10 L268.85 423.43 L269.17 422.75 L269.49 422.07 L269.81 421.39 L270.13 420.71 L270.44 420.03 L270.76 419.35 L271.08 418.67 L271.39 417.99 L271.70 417.31 L272.01 416.63 L272.32 415.94 L272.63 415.26 L272.94 414.58 L273.25 413.89 L273.55 413.21 L273.86 412.53 L274.17 411.85 L274.49 411.16 L274.80 410.48 L275.12 409.80 L275.44 409.13 L275.77 408.45 L276.10 407.78 L276.43 407.11 L276.77 406.44 L277.11 405.77 L277.45 405.10 L277.78 404.43 L278.12 403.76 L278.44 403.09 L278.76 402.41 L279.07 401.73 L279.36 401.04 L279.64 400.34 L279.91 399.64 L280.16 398.94 L280.40 398.23 L280.63 397.52 L280.85 396.80 L281.06 396.08 L281.27 395.36 L281.47 394.64 L281.67 393.92 L281.87 393.20 L282.07 392.47 L282.27 391.75 L282.48 391.03 L282.69 390.31 L282.90 389.59 L283.13 388.88 L283.35 388.16 L283.59 387.45 L283.83 386.74 L284.08 386.03 L284.33 385.33 L284.58 384.62 L284.83 383.91 L285.08 383.21 L285.34 382.50 L285.59 381.80 L285.83 381.09 L286.08 380.38 L286.32 379.67 L286.56 378.96 L286.79 378.25 L287.02 377.53 L287.24 376.82 L287.47 376.10 L287.69 375.39 L287.91 374.67 L288.13 373.95 L288.35 373.23 L288.57 372.52 L288.78 371.80 L289.00 371.08 L289.23 370.37 L289.45 369.65 L289.67 368.94 L289.90 368.22 L290.13 367.51 L290.37 366.80 L290.61 366.09 L290.85 365.38 L291.10 364.67 L291.35 363.96 L291.60 363.25 L291.85 362.55 L292.11 361.84 L292.37 361.14 L292.63 360.44 L292.89 359.74 L293.16 359.04 L293.43 358.34 L293.70 357.64 L293.98 356.94 L294.27 356.25 L294.55 355.56 L294.85 354.87 L295.15 354.18 L295.46 353.50 L295.77 352.82 L296.09 352.14 L296.42 351.47 L296.76 350.80 L297.10 350.13 L297.45 349.47 L297.81 348.81 L298.18 348.16 L298.56 347.51 L298.94 346.87 L299.33 346.23 L299.74 345.60 L300.15 344.98 L300.58 344.36 L301.02 343.76 L301.47 343.16 L301.94 342.58 L302.41 342.00 L302.91 341.44 L303.41 340.89 L303.93 340.35 L304.46 339.83 L305.01 339.31 L305.56 338.82 L306.13 338.33 L306.72 337.86 L307.31 337.41 L307.91 336.97 L308.53 336.55 L309.16 336.15 L309.80 335.77 L310.45 335.40 L311.11 335.06 L311.78 334.74 L312.47 334.44 L313.16 334.17 L313.86 333.92 L314.57 333.69 L315.29 333.49 L316.01 333.30 L316.74 333.14 L317.47 332.99 L318.21 332.85 L318.95 332.74 L319.69 332.63 L320.43 332.54 L321.18 332.45 L321.92 332.38 L322.67 332.30 L323.42 332.24 L324.16 332.18 L324.91 332.11 L325.66 332.06 L326.40 332.00 L327.15 331.94 L327.90 331.88 L328.65 331.82 L329.40 331.77 L330.14 331.71 L330.89 331.65 L331.64 331.59 L332.39 331.53 L333.13 331.48 L333.88 331.42 L334.63 331.37 L335.38 331.31 L336.12 331.26 L336.87 331.21 L337.62 331.15 L338.37 331.10 L339.12 331.05 L339.87 331.00 L340.61 330.95 L341.36 330.91 L342.11 330.86 L342.86 330.81 L343.61 330.76 L344.36 330.72 L345.10 330.67 L345.85 330.62 L346.60 330.58 L347.35 330.53 L348.10 330.48 L348.85 330.44 L349.59 330.39 L350.34 330.35 L351.09 330.30 L351.84 330.26 L352.59 330.22 L353.34 330.17 L354.09 330.13 L354.83 330.08 L355.58 330.04 L356.33 330.00 L357.08 329.96 L357.83 329.91 L358.58 329.87 L359.33 329.83 L360.08 329.79 L360.82 329.75 L361.57 329.71 L362.32 329.67 L363.07 329.63 L363.82 329.59 L364.57 329.55 L365.32 329.51 L366.07 329.48 L366.81 329.44 L367.56 329.40 L368.31 329.37 L369.06 329.33 L369.81 329.29 L370.56 329.26 L371.31 329.23 L372.06 329.19 L372.81 329.16 L373.56 329.12 L374.31 329.09 L375.05 329.06 L375.80 329.03 L376.55 329.00 L377.30 328.97 L378.05 328.94 L378.80 328.91 L379.55 328.88 L379.80 328.87" fill="none" stroke="#00d810" stroke-width="1.05" stroke-linejoin="round"/>
<path d="M119.10 526.89 L119.85 526.86 L120.60 526.82 L121.35 526.79 L122.10 526.76 L122.85 526.72 L123.60 526.68 L124.34 526.64 L125.09 526.60 L125.84 526.55 L126.59 526.50 L127.34 526.45 L128.09 526.40 L128.83 526.35 L129.58 526.30 L130.33 526.24 L131.08 526.18 L131.83 526.12 L132.57 526.06 L133.32 525.99 L134.07 525.92 L134.81 525.85 L135.56 525.77 L136.30 525.70 L137.05 525.62 L137.80 525.53 L138.54 525.45 L139.29 525.36 L140.03 525.27 L140.78 525.18 L141.52 525.09 L142.26 524.99 L143.01 524.89 L143.75 524.79 L144.49 524.68 L145.23 524.57 L145.97 524.45 L146.71 524.33 L147.45 524.21 L148.19 524.08 L148.93 523.95 L149.67 523.82 L150.41 523.68 L151.14 523.55 L151.88 523.41 L152.62 523.28 L153.36 523.14 L154.09 523.00 L154.83 522.86 L155.57 522.72 L156.30 522.58 L157.04 522.43 L157.78 522.29 L158.51 522.14 L159.25 521.99 L159.98 521.84 L160.71 521.69 L161.45 521.53 L162.18 521.38 L162.92 521.22 L163.65 521.07 L164.38 520.91 L165.12 520.75 L165.85 520.59 L166.58 520.43 L167.31 520.27 L168.05 520.11 L168.78 519.95 L169.51 519.79 L170.24 519.62 L170.97 519.45 L171.70 519.28 L172.43 519.10 L173.16 518.92 L173.89 518.73 L174.61 518.54 L175.33 518.34 L176.06 518.14 L176.78 517.93 L177.50 517.72 L178.21 517.50 L178.93 517.28 L179.64 517.04 L180.35 516.80 L181.06 516.55 L181.76 516.30 L182.46 516.03 L183.16 515.75 L183.85 515.46 L184.53 515.15 L185.20 514.82 L185.87 514.48 L186.52 514.11 L187.17 513.73 L187.81 513.34 L188.45 512.95 L189.09 512.56 L189.73 512.18 L190.38 511.81 L191.04 511.45 L191.71 511.11 L192.38 510.78 L193.06 510.46 L193.74 510.15 L194.43 509.85 L195.12 509.55 L195.81 509.26 L196.50 508.98 L197.20 508.69 L197.89 508.41 L198.59 508.13 L199.29 507.86 L199.98 507.58 L200.68 507.31 L201.38 507.04 L202.09 506.78 L202.79 506.52 L203.49 506.26 L204.20 506.01 L204.91 505.76 L205.62 505.52 L206.33 505.28 L207.04 505.05 L207.76 504.82 L208.47 504.60 L209.19 504.39 L209.91 504.18 L210.63 503.97 L211.35 503.76 L212.07 503.56 L212.80 503.36 L213.52 503.15 L214.24 502.95 L214.96 502.74 L215.68 502.53 L216.40 502.32 L217.12 502.11 L217.84 501.89 L218.55 501.67 L219.27 501.45 L219.99 501.23 L220.70 501.01 L221.42 500.78 L222.14 500.56 L222.85 500.33 L223.57 500.11 L224.28 499.88 L224.99 499.65 L225.71 499.42 L226.42 499.19 L227.14 498.96 L227.85 498.73 L228.56 498.50 L229.28 498.26 L229.99 498.03 L230.70 497.80 L231.41 497.57 L232.13 497.33 L232.84 497.10 L233.55 496.87 L234.27 496.63 L234.98 496.41 L235.69 496.18 L236.41 495.95 L237.13 495.73 L237.84 495.50 L238.56 495.28 L239.27 495.05 L239.98 494.82 L240.70 494.58 L241.41 494.34 L242.11 494.09 L242.82 493.84 L243.52 493.57 L244.22 493.29 L244.91 493.01 L245.60 492.71 L246.28 492.40 L246.96 492.08 L247.63 491.75 L248.29 491.40 L248.96 491.05 L249.61 490.69 L250.26 490.31 L250.91 489.93 L251.55 489.54 L252.18 489.14 L252.81 488.74 L253.44 488.33 L254.06 487.91 L254.68 487.49 L255.30 487.06 L255.91 486.62 L256.51 486.18 L257.12 485.73 L257.71 485.28 L258.30 484.81 L258.88 484.34 L259.45 483.85 L260.00 483.35 L260.55 482.84 L261.09 482.32 L261.61 481.78 L262.13 481.23 L262.62 480.67 L263.11 480.10 L263.57 479.52 L264.01 478.91 L264.44 478.30 L264.84 477.67 L265.22 477.02 L265.59 476.37 L265.94 475.71 L266.29 475.04 L266.62 474.37 L266.95 473.70 L267.27 473.02 L267.58 472.34 L267.90 471.66 L268.21 470.97 L268.51 470.29 L268.82 469.61 L269.13 468.92 L269.44 468.24 L269.74 467.55 L270.05 466.87 L270.36 466.19 L270.68 465.51 L270.99 464.82 L271.30 464.14 L271.61 463.46 L271.91 462.77 L272.22 462.09 L272.52 461.40 L272.82 460.71 L273.12 460.02 L273.41 459.34 L273.71 458.65 L274.00 457.96 L274.29 457.26 L274.58 456.57 L274.87 455.88 L275.15 455.19 L275.44 454.49 L275.72 453.80 L276.00 453.10 L276.28 452.41 L276.56 451.71 L276.83 451.01 L277.11 450.31 L277.38 449.61 L277.65 448.91 L277.92 448.21 L278.18 447.51 L278.44 446.81 L278.70 446.10 L278.95 445.40 L279.21 444.69 L279.46 443.99 L279.71 443.28 L279.96 442.57 L280.21 441.87 L280.46 441.16 L280.71 440.45 L280.96 439.74 L281.21 439.04 L281.46 438.33 L281.71 437.62 L281.96 436.92 L282.22 436.21 L282.47 435.51 L282.73 434.80 L282.99 434.10 L283.25 433.40 L283.52 432.69 L283.79 431.99 L284.06 431.30 L284.34 430.60 L284.61 429.90 L284.89 429.21 L285.17 428.51 L285.45 427.81 L285.73 427.12 L286.01 426.42 L286.28 425.72 L286.55 425.02 L286.81 424.32 L287.07 423.62 L287.33 422.91 L287.58 422.21 L287.83 421.50 L288.06 420.79 L288.30 420.07 L288.52 419.36 L288.74 418.64 L288.96 417.92 L289.17 417.20 L289.37 416.48 L289.58 415.76 L289.77 415.04 L289.97 414.31 L290.16 413.59 L290.35 412.86 L290.54 412.14 L290.73 411.41 L290.92 410.68 L291.10 409.96 L291.29 409.23 L291.47 408.51 L291.66 407.78 L291.85 407.05 L292.03 406.33 L292.22 405.60 L292.41 404.87 L292.60 404.15 L292.79 403.42 L292.98 402.70 L293.18 401.97 L293.37 401.25 L293.58 400.53 L293.78 399.81 L293.98 399.08 L294.19 398.36 L294.40 397.64 L294.61 396.92 L294.82 396.20 L295.03 395.48 L295.24 394.76 L295.45 394.04 L295.67 393.33 L295.89 392.61 L296.10 391.89 L296.32 391.17 L296.55 390.46 L296.77 389.74 L296.99 389.02 L297.22 388.31 L297.44 387.59 L297.67 386.88 L297.90 386.16 L298.12 385.45 L298.36 384.74 L298.59 384.02 L298.83 383.31 L299.07 382.60 L299.31 381.89 L299.56 381.19 L299.82 380.48 L300.08 379.78 L300.34 379.08 L300.61 378.38 L300.89 377.68 L301.17 376.99 L301.46 376.29 L301.74 375.60 L302.04 374.91 L302.34 374.22 L302.65 373.54 L302.96 372.86 L303.27 372.18 L303.60 371.50 L303.92 370.82 L304.25 370.15 L304.58 369.48 L304.92 368.81 L305.26 368.14 L305.62 367.48 L305.98 366.83 L306.36 366.18 L306.75 365.54 L307.16 364.91 L307.58 364.29 L308.02 363.69 L308.47 363.09 L308.94 362.51 L309.42 361.93 L309.92 361.37 L310.44 360.83 L310.97 360.30 L311.52 359.80 L312.08 359.31 L312.66 358.83 L313.26 358.38 L313.87 357.94 L314.49 357.53 L315.13 357.16 L315.79 356.83 L316.48 356.56 L317.19 356.35 L317.91 356.20 L318.65 356.10 L319.39 356.02 L320.14 355.96 L320.88 355.91 L321.63 355.87 L322.38 355.83 L323.13 355.78 L323.88 355.74 L324.63 355.70 L325.38 355.66 L326.13 355.62 L326.87 355.58 L327.62 355.54 L328.37 355.50 L329.12 355.46 L329.87 355.41 L330.62 355.37 L331.37 355.33 L332.12 355.28 L332.86 355.24 L333.61 355.19 L334.36 355.15 L335.11 355.11 L335.86 355.06 L336.61 355.02 L337.36 354.98 L338.11 354.93 L338.85 354.89 L339.60 354.85 L340.35 354.81 L341.10 354.77 L341.85 354.72 L342.60 354.68 L343.35 354.64 L344.10 354.60 L344.85 354.56 L345.59 354.52 L346.34 354.48 L347.09 354.44 L347.84 354.40 L348.59 354.36 L349.34 354.32 L350.09 354.28 L350.84 354.24 L351.59 354.20 L352.33 354.16 L353.08 354.12 L353.83 354.08 L354.58 354.04 L355.33 354.00 L356.08 353.96 L356.83 353.92 L357.58 353.89 L358.33 353.85 L359.08 353.81 L359.82 353.77 L360.57 353.73 L361.32 353.69 L362.07 353.66 L362.82 353.62 L363.57 353.58 L364.32 353.54 L365.07 353.50 L365.82 353.47 L366.57 353.43 L367.31 353.39 L368.06 353.36 L368.81 353.32 L369.56 353.28 L370.31 353.25 L371.06 353.21 L371.81 353.17 L372.56 353.14 L373.31 353.10 L374.06 353.07 L374.81 353.03 L375.55 353.00 L376.30 352.96 L377.05 352.93 L377.80 352.89 L378.55 352.86 L379.30 352.82 L379.80 352.80" fill="none" stroke="#008000" stroke-width="1.05" stroke-linejoin="round"/>
<path d="M212.00 526.89 L212.75 526.85 L213.50 526.81 L214.25 526.77 L215.00 526.72 L215.75 526.68 L216.49 526.63 L217.24 526.58 L217.99 526.53 L218.74 526.48 L219.49 526.43 L220.23 526.38 L220.98 526.32 L221.73 526.26 L222.48 526.21 L223.22 526.15 L223.97 526.09 L224.72 526.03 L225.47 525.97 L226.21 525.91 L226.96 525.85 L227.71 525.78 L228.45 525.71 L229.20 525.64 L229.95 525.57 L230.69 525.50 L231.44 525.42 L232.18 525.34 L232.93 525.25 L233.67 525.16 L234.41 525.07 L235.16 524.97 L235.90 524.87 L236.64 524.76 L237.38 524.64 L238.12 524.50 L238.85 524.35 L239.58 524.19 L240.31 524.02 L241.04 523.84 L241.77 523.65 L242.49 523.45 L243.21 523.24 L243.93 523.03 L244.65 522.81 L245.36 522.59 L246.08 522.37 L246.79 522.14 L247.50 521.89 L248.20 521.64 L248.91 521.37 L249.60 521.10 L250.30 520.82 L250.99 520.54 L251.68 520.25 L252.37 519.95 L253.06 519.65 L253.75 519.35 L254.43 519.05 L255.12 518.75 L255.80 518.44 L256.49 518.13 L257.17 517.82 L257.85 517.50 L258.52 517.18 L259.20 516.86 L259.87 516.53 L260.54 516.19 L261.21 515.85 L261.87 515.50 L262.53 515.14 L263.19 514.78 L263.84 514.41 L264.49 514.04 L265.13 513.65 L265.77 513.26 L266.40 512.85 L267.03 512.44 L267.65 512.03 L268.27 511.60 L268.88 511.17 L269.50 510.74 L270.10 510.30 L270.71 509.86 L271.31 509.41 L271.91 508.96 L272.50 508.50 L273.09 508.04 L273.69 507.58 L274.28 507.13 L274.88 506.68 L275.48 506.22 L276.08 505.77 L276.67 505.32 L277.27 504.86 L277.86 504.40 L278.44 503.93 L279.01 503.45 L279.58 502.95 L280.14 502.45 L280.68 501.94 L281.21 501.41 L281.74 500.87 L282.24 500.32 L282.74 499.76 L283.22 499.18 L283.68 498.60 L284.13 497.99 L284.55 497.37 L284.94 496.74 L285.32 496.09 L285.68 495.43 L286.03 494.77 L286.36 494.10 L286.69 493.42 L287.00 492.74 L287.32 492.06 L287.62 491.38 L287.92 490.69 L288.22 490.00 L288.51 489.31 L288.80 488.62 L289.09 487.93 L289.38 487.24 L289.66 486.54 L289.93 485.84 L290.20 485.14 L290.46 484.44 L290.71 483.73 L290.96 483.03 L291.21 482.32 L291.44 481.61 L291.68 480.90 L291.91 480.18 L292.14 479.47 L292.36 478.75 L292.57 478.04 L292.79 477.32 L293.00 476.60 L293.21 475.88 L293.41 475.16 L293.60 474.43 L293.79 473.71 L293.98 472.98 L294.15 472.25 L294.32 471.52 L294.49 470.79 L294.66 470.06 L294.82 469.33 L294.98 468.60 L295.14 467.86 L295.29 467.13 L295.45 466.40 L295.61 465.66 L295.76 464.93 L295.92 464.20 L296.08 463.47 L296.24 462.73 L296.40 462.00 L296.56 461.27 L296.73 460.54 L296.90 459.81 L297.07 459.08 L297.24 458.35 L297.42 457.62 L297.59 456.89 L297.77 456.16 L297.95 455.43 L298.12 454.71 L298.30 453.98 L298.48 453.25 L298.66 452.52 L298.84 451.79 L299.02 451.07 L299.20 450.34 L299.38 449.61 L299.56 448.88 L299.74 448.16 L299.92 447.43 L300.10 446.70 L300.27 445.97 L300.45 445.24 L300.63 444.51 L300.80 443.79 L300.98 443.06 L301.15 442.33 L301.32 441.60 L301.49 440.87 L301.66 440.14 L301.83 439.41 L302.00 438.68 L302.16 437.95 L302.33 437.21 L302.50 436.48 L302.67 435.75 L302.83 435.02 L303.00 434.29 L303.16 433.56 L303.33 432.83 L303.49 432.10 L303.66 431.37 L303.82 430.63 L303.98 429.90 L304.15 429.17 L304.31 428.44 L304.47 427.71 L304.63 426.98 L304.79 426.24 L304.95 425.51 L305.11 424.78 L305.27 424.05 L305.43 423.31 L305.59 422.58 L305.75 421.85 L305.90 421.11 L306.06 420.38 L306.22 419.65 L306.37 418.92 L306.53 418.18 L306.68 417.45 L306.83 416.71 L306.99 415.98 L307.14 415.25 L307.29 414.51 L307.44 413.78 L307.59 413.04 L307.74 412.31 L307.89 411.58 L308.04 410.84 L308.19 410.11 L308.33 409.37 L308.47 408.63 L308.61 407.90 L308.74 407.16 L308.87 406.42 L308.99 405.68 L309.12 404.94 L309.24 404.20 L309.35 403.46 L309.47 402.72 L309.59 401.98 L309.71 401.24 L309.82 400.50 L309.94 399.76 L310.06 399.02 L310.18 398.28 L310.31 397.54 L310.44 396.80 L310.57 396.06 L310.70 395.33 L310.85 394.59 L311.00 393.86 L311.17 393.13 L311.35 392.40 L311.56 391.68 L311.81 390.98 L312.09 390.28 L312.40 389.60 L312.73 388.93 L313.09 388.27 L313.47 387.63 L313.89 387.00 L314.33 386.40 L314.81 385.82 L315.30 385.27 L315.83 384.73 L316.38 384.24 L316.99 383.82 L317.66 383.52 L318.38 383.33 L319.11 383.21 L319.86 383.13 L320.61 383.08 L321.35 383.04 L322.10 383.01 L322.85 382.98 L323.60 382.95 L324.35 382.92 L325.10 382.90 L325.85 382.87 L326.60 382.85 L327.35 382.83 L328.10 382.81 L328.85 382.79 L329.60 382.78 L330.34 382.76 L331.09 382.74 L331.84 382.73 L332.59 382.72 L333.34 382.70 L334.09 382.69 L334.84 382.68 L335.59 382.67 L336.34 382.66 L337.09 382.65 L337.84 382.64 L338.59 382.63 L339.34 382.62 L340.09 382.61 L340.84 382.60 L341.59 382.59 L342.34 382.58 L343.09 382.57 L343.84 382.55 L344.59 382.54 L345.34 382.53 L346.08 382.51 L346.83 382.50 L347.58 382.48 L348.33 382.47 L349.08 382.45 L349.83 382.43 L350.58 382.41 L351.33 382.39 L352.08 382.37 L352.83 382.35 L353.58 382.33 L354.33 382.31 L355.08 382.29 L355.83 382.26 L356.58 382.24 L357.32 382.22 L358.07 382.20 L358.82 382.17 L359.57 382.15 L360.32 382.13 L361.07 382.11 L361.82 382.08 L362.57 382.06 L363.32 382.03 L364.07 382.01 L364.82 381.99 L365.57 381.96 L366.32 381.94 L367.06 381.91 L367.81 381.89 L368.56 381.86 L369.31 381.84 L370.06 381.81 L370.81 381.78 L371.56 381.76 L372.31 381.73 L373.06 381.71 L373.81 381.68 L374.56 381.65 L375.31 381.63 L376.05 381.60 L376.80 381.57 L377.55 381.54 L378.30 381.52 L379.05 381.49 L379.80 381.46 L379.80 381.46" fill="none" stroke="#1ac8e6" stroke-width="1.05" stroke-linejoin="round"/>
<path d="M254.66 526.89 L255.41 526.85 L256.16 526.82 L256.91 526.77 L257.66 526.73 L258.40 526.67 L259.15 526.61 L259.90 526.55 L260.64 526.47 L261.38 526.39 L262.13 526.29 L262.87 526.19 L263.61 526.08 L264.35 525.95 L265.08 525.82 L265.82 525.67 L266.55 525.51 L267.28 525.34 L268.01 525.17 L268.73 524.99 L269.46 524.81 L270.19 524.62 L270.91 524.43 L271.63 524.23 L272.36 524.03 L273.08 523.83 L273.79 523.61 L274.51 523.39 L275.22 523.16 L275.93 522.92 L276.63 522.67 L277.33 522.40 L278.03 522.12 L278.71 521.83 L279.39 521.52 L280.07 521.20 L280.73 520.86 L281.39 520.50 L282.03 520.13 L282.67 519.73 L283.29 519.32 L283.90 518.89 L284.49 518.44 L285.07 517.97 L285.63 517.48 L286.18 516.98 L286.71 516.45 L287.23 515.92 L287.73 515.36 L288.22 514.80 L288.70 514.23 L289.16 513.64 L289.61 513.04 L290.05 512.44 L290.47 511.82 L290.88 511.20 L291.28 510.57 L291.67 509.93 L292.05 509.28 L292.42 508.63 L292.78 507.97 L293.13 507.31 L293.47 506.64 L293.81 505.97 L294.14 505.30 L294.46 504.62 L294.77 503.94 L295.08 503.26 L295.38 502.57 L295.67 501.88 L295.95 501.19 L296.23 500.50 L296.51 499.80 L296.77 499.10 L297.03 498.40 L297.29 497.69 L297.54 496.99 L297.78 496.28 L298.01 495.57 L298.24 494.85 L298.47 494.14 L298.69 493.42 L298.90 492.70 L299.11 491.98 L299.32 491.26 L299.52 490.54 L299.72 489.82 L299.91 489.09 L300.10 488.37 L300.29 487.65 L300.48 486.92 L300.66 486.19 L300.84 485.47 L301.02 484.74 L301.19 484.01 L301.37 483.28 L301.54 482.55 L301.70 481.82 L301.86 481.09 L302.02 480.35 L302.18 479.62 L302.34 478.89 L302.49 478.16 L302.64 477.42 L302.80 476.69 L302.95 475.95 L303.10 475.22 L303.25 474.49 L303.40 473.75 L303.55 473.02 L303.69 472.28 L303.84 471.55 L303.99 470.81 L304.14 470.08 L304.29 469.34 L304.44 468.61 L304.59 467.88 L304.74 467.14 L304.88 466.40 L305.02 465.67 L305.16 464.93 L305.30 464.20 L305.44 463.46 L305.57 462.72 L305.70 461.98 L305.82 461.24 L305.95 460.51 L306.07 459.77 L306.18 459.03 L306.30 458.29 L306.41 457.54 L306.52 456.80 L306.63 456.06 L306.73 455.32 L306.84 454.58 L306.94 453.83 L307.04 453.09 L307.14 452.35 L307.24 451.61 L307.33 450.86 L307.43 450.12 L307.52 449.38 L307.61 448.63 L307.70 447.89 L307.79 447.14 L307.88 446.40 L307.97 445.65 L308.05 444.91 L308.14 444.17 L308.22 443.42 L308.31 442.68 L308.39 441.93 L308.47 441.19 L308.55 440.44 L308.63 439.70 L308.70 438.95 L308.78 438.20 L308.85 437.46 L308.92 436.71 L308.99 435.97 L309.05 435.22 L309.12 434.47 L309.18 433.73 L309.24 432.98 L309.31 432.23 L309.37 431.49 L309.43 430.74 L309.49 429.99 L309.55 429.24 L309.61 428.50 L309.67 427.75 L309.74 427.00 L309.80 426.26 L309.86 425.51 L309.93 424.76 L310.00 424.02 L310.07 423.27 L310.14 422.53 L310.21 421.78 L310.29 421.03 L310.37 420.29 L310.46 419.55 L310.55 418.80 L310.65 418.06 L310.75 417.32 L310.85 416.57 L310.96 415.83 L311.07 415.09 L311.19 414.35 L311.31 413.61 L311.43 412.87 L311.57 412.14 L311.71 411.40 L311.87 410.67 L312.04 409.95 L312.23 409.23 L312.44 408.51 L312.68 407.81 L312.95 407.12 L313.25 406.45 L313.58 405.79 L313.96 405.16 L314.37 404.56 L314.82 404.00 L315.31 403.47 L315.84 402.98 L316.41 402.54 L317.02 402.15 L317.66 401.81 L318.32 401.50 L319.01 401.25 L319.71 401.03 L320.42 400.85 L321.15 400.70 L321.88 400.58 L322.62 400.48 L323.36 400.41 L324.11 400.34 L324.85 400.29 L325.60 400.24 L326.35 400.20 L327.10 400.16 L327.85 400.12 L328.59 400.09 L329.34 400.06 L330.09 400.02 L330.84 400.00 L331.59 399.97 L332.34 399.94 L333.09 399.92 L333.84 399.89 L334.59 399.87 L335.33 399.85 L336.08 399.83 L336.83 399.81 L337.58 399.79 L338.33 399.78 L339.08 399.76 L339.83 399.75 L340.58 399.73 L341.33 399.72 L342.08 399.71 L342.83 399.69 L343.58 399.68 L344.33 399.67 L345.08 399.66 L345.83 399.65 L346.57 399.64 L347.32 399.63 L348.07 399.63 L348.82 399.62 L349.57 399.61 L350.32 399.60 L351.07 399.59 L351.82 399.58 L352.57 399.58 L353.32 399.57 L354.07 399.56 L354.82 399.55 L355.57 399.55 L356.32 399.54 L357.07 399.53 L357.82 399.52 L358.57 399.52 L359.32 399.51 L360.06 399.51 L360.81 399.50 L361.56 399.49 L362.31 399.49 L363.06 399.48 L363.81 399.48 L364.56 399.47 L365.31 399.46 L366.06 399.46 L366.81 399.45 L367.56 399.45 L368.31 399.45 L369.06 399.44 L369.81 399.44 L370.56 399.43 L371.31 399.43 L372.06 399.43 L372.81 399.42 L373.55 399.42 L374.30 399.42 L375.05 399.42 L375.80 399.42 L376.55 399.41 L377.30 399.41 L378.05 399.41 L378.80 399.41 L379.55 399.41 L379.80 399.41" fill="none" stroke="#0000ff" stroke-width="1.05" stroke-linejoin="round"/>
<path d="M270.78 526.89 L271.53 526.87 L272.28 526.86 L273.03 526.85 L273.78 526.83 L274.53 526.81 L275.27 526.79 L276.02 526.76 L276.77 526.73 L277.52 526.70 L278.27 526.66 L279.02 526.62 L279.76 526.57 L280.51 526.52 L281.26 526.47 L282.00 526.41 L282.75 526.34 L283.49 526.26 L284.23 526.16 L284.97 526.05 L285.71 525.93 L286.44 525.78 L287.17 525.62 L287.89 525.43 L288.60 525.22 L289.31 524.99 L290.01 524.73 L290.69 524.45 L291.37 524.14 L292.03 523.81 L292.68 523.45 L293.32 523.06 L293.95 522.67 L294.57 522.26 L295.19 521.83 L295.80 521.40 L296.39 520.96 L296.98 520.50 L297.54 520.03 L298.07 519.53 L298.57 519.00 L299.04 518.44 L299.46 517.85 L299.84 517.23 L300.19 516.58 L300.50 515.91 L300.77 515.23 L301.02 514.53 L301.24 513.82 L301.45 513.10 L301.63 512.38 L301.81 511.65 L301.97 510.92 L302.12 510.19 L302.26 509.45 L302.40 508.72 L302.54 507.98 L302.67 507.24 L302.80 506.51 L302.93 505.77 L303.06 505.03 L303.18 504.29 L303.31 503.55 L303.43 502.81 L303.55 502.07 L303.66 501.33 L303.78 500.59 L303.89 499.85 L304.00 499.11 L304.11 498.37 L304.22 497.63 L304.33 496.89 L304.44 496.15 L304.55 495.41 L304.65 494.66 L304.76 493.92 L304.87 493.18 L304.97 492.44 L305.08 491.70 L305.19 490.96 L305.29 490.21 L305.40 489.47 L305.50 488.73 L305.61 487.99 L305.72 487.25 L305.82 486.51 L305.93 485.76 L306.03 485.02 L306.13 484.28 L306.24 483.54 L306.34 482.79 L306.44 482.05 L306.54 481.31 L306.64 480.57 L306.74 479.83 L306.84 479.08 L306.94 478.34 L307.04 477.60 L307.14 476.85 L307.24 476.11 L307.33 475.37 L307.43 474.63 L307.53 473.88 L307.63 473.14 L307.73 472.40 L307.82 471.65 L307.92 470.91 L308.02 470.17 L308.11 469.43 L308.21 468.68 L308.30 467.94 L308.39 467.19 L308.48 466.45 L308.56 465.71 L308.65 464.96 L308.73 464.22 L308.81 463.47 L308.89 462.73 L308.97 461.98 L309.04 461.24 L309.11 460.49 L309.17 459.74 L309.24 459.00 L309.30 458.25 L309.36 457.50 L309.41 456.76 L309.46 456.01 L309.52 455.26 L309.56 454.51 L309.61 453.77 L309.66 453.02 L309.70 452.27 L309.75 451.52 L309.80 450.78 L309.84 450.03 L309.89 449.28 L309.93 448.53 L309.98 447.78 L310.03 447.04 L310.08 446.29 L310.13 445.54 L310.18 444.79 L310.24 444.05 L310.31 443.30 L310.38 442.56 L310.46 441.81 L310.54 441.07 L310.64 440.33 L310.75 439.59 L310.88 438.85 L311.01 438.12 L311.17 437.38 L311.33 436.65 L311.51 435.93 L311.70 435.20 L311.90 434.48 L312.12 433.77 L312.34 433.05 L312.57 432.34 L312.81 431.63 L313.05 430.92 L313.30 430.22 L313.56 429.52 L313.84 428.82 L314.12 428.13 L314.42 427.45 L314.74 426.77 L315.08 426.11 L315.45 425.47 L315.84 424.84 L316.26 424.24 L316.71 423.66 L317.20 423.12 L317.72 422.61 L318.27 422.14 L318.86 421.72 L319.48 421.35 L320.12 421.02 L320.80 420.74 L321.49 420.51 L322.20 420.31 L322.92 420.14 L323.65 420.01 L324.38 419.91 L325.12 419.83 L325.87 419.77 L326.61 419.72 L327.36 419.68 L328.11 419.65 L328.85 419.62 L329.60 419.59 L330.35 419.57 L331.10 419.55 L331.85 419.53 L332.60 419.51 L333.35 419.50 L334.10 419.48 L334.85 419.47 L335.60 419.45 L336.34 419.44 L337.09 419.43 L337.84 419.42 L338.59 419.41 L339.34 419.40 L340.09 419.39 L340.84 419.38 L341.59 419.37 L342.34 419.36 L343.09 419.35 L343.84 419.35 L344.59 419.34 L345.34 419.33 L346.08 419.32 L346.83 419.32 L347.58 419.31 L348.33 419.30 L349.08 419.30 L349.83 419.29 L350.58 419.28 L351.33 419.28 L352.08 419.27 L352.83 419.26 L353.58 419.25 L354.33 419.25 L355.08 419.24 L355.82 419.23 L356.57 419.23 L357.32 419.22 L358.07 419.21 L358.82 419.21 L359.57 419.20 L360.32 419.19 L361.07 419.19 L361.82 419.18 L362.57 419.17 L363.32 419.17 L364.07 419.16 L364.82 419.16 L365.56 419.15 L366.31 419.15 L367.06 419.14 L367.81 419.14 L368.56 419.13 L369.31 419.13 L370.06 419.12 L370.81 419.12 L371.56 419.12 L372.31 419.11 L373.06 419.11 L373.81 419.11 L374.56 419.11 L375.30 419.10 L376.05 419.10 L376.80 419.10 L377.55 419.10 L378.30 419.10 L379.05 419.10 L379.80 419.10 L379.80 419.10" fill="none" stroke="#8000ff" stroke-width="1.05" stroke-linejoin="round"/>
<path d="M294.48 526.98 L295.05 526.57 L295.61 526.14 L296.13 525.67 L296.62 525.17 L297.06 524.62 L297.45 524.03 L297.80 523.40 L298.11 522.74 L298.38 522.06 L298.62 521.36 L298.84 520.65 L299.04 519.93 L299.22 519.21 L299.39 518.48 L299.55 517.75 L299.70 517.02 L299.84 516.28 L299.97 515.55 L300.10 514.81 L300.22 514.07 L300.33 513.33 L300.44 512.59 L300.54 511.85 L300.64 511.11 L300.74 510.36 L300.83 509.62 L300.92 508.88 L301.01 508.13 L301.09 507.39 L301.18 506.64 L301.26 505.90 L301.34 505.16 L301.41 504.41 L301.49 503.66 L301.56 502.92 L301.63 502.17 L301.70 501.43 L301.77 500.68 L301.84 499.94 L301.90 499.19 L301.97 498.45 L302.04 497.70 L302.11 496.95 L302.18 496.21 L302.25 495.46 L302.32 494.72 L302.39 493.97 L302.46 493.23 L302.53 492.48 L302.60 491.73 L302.67 490.99 L302.74 490.24 L302.81 489.50 L302.88 488.75 L302.96 488.01 L303.03 487.26 L303.10 486.51 L303.17 485.77 L303.24 485.02 L303.31 484.28 L303.39 483.53 L303.46 482.79 L303.53 482.04 L303.60 481.30 L303.68 480.55 L303.75 479.81 L303.82 479.06 L303.90 478.32 L303.97 477.57 L304.05 476.82 L304.12 476.08 L304.19 475.33 L304.27 474.59 L304.35 473.84 L304.42 473.10 L304.50 472.35 L304.58 471.61 L304.66 470.86 L304.74 470.12 L304.82 469.38 L304.90 468.63 L304.99 467.89 L305.08 467.14 L305.17 466.40 L305.26 465.66 L305.35 464.91 L305.45 464.17 L305.55 463.43 L305.66 462.69 L305.77 461.95 L305.88 461.21 L306.01 460.47 L306.13 459.73 L306.27 459.00 L306.40 458.26 L306.55 457.52 L306.69 456.79 L306.84 456.06 L307.00 455.32 L307.15 454.59 L307.31 453.86 L307.48 453.13 L307.65 452.40 L307.82 451.67 L307.99 450.94 L308.17 450.22 L308.36 449.49 L308.55 448.77 L308.74 448.04 L308.94 447.32 L309.15 446.60 L309.36 445.88 L309.58 445.17 L309.81 444.45 L310.04 443.74 L310.28 443.04 L310.53 442.33 L310.80 441.63 L311.07 440.94 L311.36 440.25 L311.66 439.57 L311.99 438.90 L312.34 438.25 L312.72 437.62 L313.13 437.02 L313.57 436.45 L314.06 435.91 L314.58 435.43 L315.15 435.00 L315.75 434.62 L316.39 434.30 L317.06 434.04 L317.75 433.82 L318.46 433.65 L319.18 433.52 L319.91 433.42 L320.65 433.34 L321.40 433.28 L322.14 433.23 L322.89 433.20 L323.64 433.16 L324.38 433.13 L325.13 433.11 L325.88 433.09 L326.63 433.06 L327.38 433.04 L328.13 433.02 L328.88 433.00 L329.62 432.99 L330.37 432.97 L331.12 432.95 L331.87 432.94 L332.62 432.92 L333.37 432.91 L334.12 432.90 L334.87 432.89 L335.61 432.87 L336.36 432.86 L337.11 432.85 L337.86 432.84 L338.61 432.83 L339.36 432.82 L340.11 432.82 L340.86 432.81 L341.61 432.80 L342.35 432.79 L343.10 432.78 L343.85 432.77 L344.60 432.76 L345.35 432.76 L346.10 432.75 L346.85 432.74 L347.60 432.73 L348.35 432.72 L349.09 432.71 L349.84 432.70 L350.59 432.69 L351.34 432.69 L352.09 432.68 L352.84 432.67 L353.59 432.66 L354.34 432.65 L355.09 432.64 L355.83 432.63 L356.58 432.62 L357.33 432.61 L358.08 432.60 L358.83 432.59 L359.58 432.59 L360.33 432.58 L361.08 432.57 L361.83 432.56 L362.57 432.55 L363.32 432.54 L364.07 432.54 L364.82 432.53 L365.57 432.52 L366.32 432.51 L367.07 432.51 L367.82 432.50 L368.57 432.49 L369.32 432.49 L370.06 432.48 L370.81 432.47 L371.56 432.47 L372.31 432.46 L373.06 432.46 L373.81 432.45 L374.56 432.44 L375.31 432.44 L376.06 432.43 L376.80 432.43 L377.55 432.43 L378.30 432.42 L379.05 432.42 L379.80 432.41 L379.80 432.41" fill="none" stroke="#ff00ff" stroke-width="1.05" stroke-linejoin="round"/>
<path d="M69.90 527.00 H294.95" fill="none" stroke="#ff00ff" stroke-width="1.15"/>
</g>
<g id="ticks">
<path d="M71.52 527.00 v-3.10 M71.52 237.35 v2.40 M95.19 527.00 v-5.20 M95.19 237.35 v4.70 M118.85 527.00 v-3.10 M118.85 237.35 v2.40 M142.52 527.00 v-5.20 M142.52 237.35 v4.70 M166.19 527.00 v-3.10 M166.19 237.35 v2.40 M189.85 527.00 v-5.20 M189.85 237.35 v4.70 M213.52 527.00 v-3.10 M213.52 237.35 v2.40 M237.19 527.00 v-5.20 M237.19 237.35 v4.70 M260.86 527.00 v-3.10 M260.86 237.35 v2.40 M284.53 527.00 v-5.20 M284.53 237.35 v4.70 M308.19 527.00 v-3.10 M308.19 237.35 v2.40 M331.86 527.00 v-5.20 M331.86 237.35 v4.70 M355.53 527.00 v-3.10 M355.53 237.35 v2.40 M48.00 478.59 h2.90 M379.10 478.59 h-2.60 M48.00 430.32 h4.90 M379.10 430.32 h-5.00 M48.00 382.06 h2.90 M379.10 382.06 h-2.60 M48.00 333.79 h4.90 M379.10 333.79 h-5.00 M48.00 285.53 h2.90 M379.10 285.53 h-2.60" fill="none" stroke="#111" stroke-width="1.0"/>
</g>
<g id="arrow"><path d="M366.6 243.6 L342.6 448.8" stroke="#000" stroke-width="1.0" fill="none"/><path d="M341.2 460.5 L338.9 448.0 L346.0 448.8 Z" fill="#000"/></g>
<g id="labels">
<text x="47.9" y="541.8" font-size="12.1" text-anchor="middle" fill="#000" >0</text>
<text x="95.2" y="541.8" font-size="12.1" text-anchor="middle" fill="#000" >5</text>
<text x="142.5" y="541.8" font-size="12.1" text-anchor="middle" fill="#000" >10</text>
<text x="189.9" y="541.8" font-size="12.1" text-anchor="middle" fill="#000" >15</text>
<text x="237.2" y="541.8" font-size="12.1" text-anchor="middle" fill="#000" >20</text>
<text x="284.5" y="541.8" font-size="12.1" text-anchor="middle" fill="#000" >25</text>
<text x="331.9" y="541.8" font-size="12.1" text-anchor="middle" fill="#000" >30</text>
<text x="379.2" y="541.8" font-size="12.1" text-anchor="middle" fill="#000" >35</text>
<text x="42.7" y="531.0" font-size="12.2" text-anchor="end" fill="#000" >0.0</text>
<text x="42.7" y="433.8" font-size="12.2" text-anchor="end" fill="#000" >0.1</text>
<text x="42.7" y="337.3" font-size="12.2" text-anchor="end" fill="#000" >0.2</text>
<text x="42.7" y="240.8" font-size="12.2" text-anchor="end" fill="#000" >0.3</text>
<text x="214.2" y="554.6" font-size="14.4" text-anchor="middle" fill="#000" >Temperature (K)</text>
<text transform="translate(16 382.9) rotate(-90)" font-size="14.4" text-anchor="middle"><tspan font-size="13">ρ</tspan> (mΩ cm)</text>
<text x="381.5" y="248.6" font-size="12.15" text-anchor="start" fill="#000" >Piston</text>
<text x="381.5" y="263.6" font-size="12.15" text-anchor="start" fill="#000" >Cylinder</text>
<text x="381.5" y="278.6" font-size="12.15" text-anchor="start" fill="#000" >Cell</text>
<text x="381.5" y="293.6" font-size="12.15" text-anchor="start" fill="#000" >0 GPa</text>
<text x="381.5" y="308.1" font-size="12.15" text-anchor="start" fill="#ff0000" >0.66</text>
<text x="381.5" y="323.1" font-size="12.15" text-anchor="start" fill="#ff8000" >1.50</text>
<text x="381.5" y="338.2" font-size="12.15" text-anchor="start" fill="#808000" >1.83</text>
<text x="381.5" y="367.0" font-size="12.15" text-anchor="start" fill="#000" >Bridgman</text>
<text x="381.5" y="381.9" font-size="12.15" text-anchor="start" fill="#000" >Cell</text>
<text x="381.5" y="396.9" font-size="12.15" text-anchor="start" fill="#000" ><tspan fill="#00d810">2.58</tspan> GPa</text>
<text x="381.5" y="411.9" font-size="12.15" text-anchor="start" fill="#008000" >3.16</text>
<text x="381.5" y="426.8" font-size="12.15" text-anchor="start" fill="#1ac8e6" >3.70</text>
<text x="381.5" y="441.8" font-size="12.15" text-anchor="start" fill="#0000ff" >4.13</text>
<text x="381.5" y="456.7" font-size="12.15" text-anchor="start" fill="#8000ff" >4.43</text>
<text x="381.5" y="471.6" font-size="12.15" text-anchor="start" fill="#ff00ff" >4.94</text>
<text x="316.3" y="475.8" font-size="12.2" text-anchor="start" fill="#000" >Increasing</text>
<text x="316.3" y="491.0" font-size="12.2" text-anchor="start" fill="#000" >Pressure</text>
<text x="65.0" y="498.9" font-size="14.6" text-anchor="start" fill="#000" >(b)</text>
<text x="68.7" y="456.0" font-size="18.3">Ba(Fe<tspan font-size="10.7" dy="7.1" dx="-0.4">0.91</tspan><tspan dy="-7.1">Ru</tspan><tspan font-size="10.7" dy="7.1">0.09</tspan><tspan dy="-7.1">)</tspan><tspan font-size="10.7" dy="7.1">2</tspan><tspan dy="-7.1">As</tspan><tspan font-size="10.7" dy="7.1">2</tspan></text>
</g>
</svg>
</body></html>
